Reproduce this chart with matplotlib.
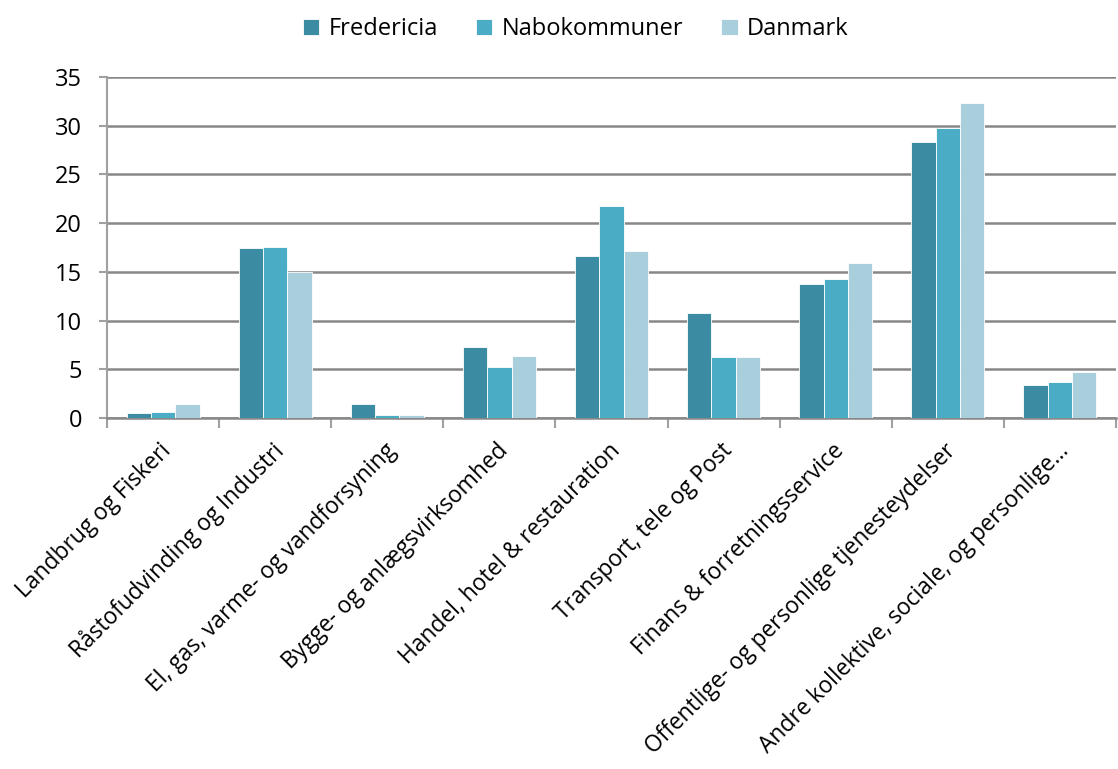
import matplotlib
matplotlib.use("Agg")
import matplotlib.pyplot as plt
import numpy as np

plt.rcParams["font.family"] = ["Open Sans", "DejaVu Sans"]

categories = [
    "Landbrug og Fiskeri",
    "Råstofudvinding og Industri",
    "El, gas, varme- og vandforsyning",
    "Bygge- og anlægsvirksomhed",
    "Handel, hotel & restauration",
    "Transport, tele og Post",
    "Finans & forretningsservice",
    "Offentlige- og personlige tjenesteydelser",
    "Andre kollektive, sociale, og personlige...",
]
fredericia = [0.55, 17.45, 1.47, 7.26, 16.65, 10.76, 13.77, 28.3, 3.39]
nabokommuner = [0.65, 17.57, 0.34, 5.24, 21.79, 6.27, 14.25, 29.77, 3.67]
danmark = [1.47, 14.97, 0.34, 6.37, 17.16, 6.27, 15.96, 32.3, 4.76]

series = [
    ("Fredericia", fredericia, "#3B8BA2"),
    ("Nabokommuner", nabokommuner, "#4BACC6"),
    ("Danmark", danmark, "#A9CFDD"),
]

fig = plt.figure(figsize=(11.18, 7.69), dpi=100)
ax = fig.add_axes([0.0957, 0.4564, 0.9025, 0.4435])

x = np.arange(len(categories))
width = 0.217
for i, (name, vals, color) in enumerate(series):
    ax.bar(x + (i - 1) * width, vals, width, color=color, label=name,
           edgecolor="white", linewidth=0.6, zorder=3)

ax.set_xlim(-0.5, len(categories) - 0.5)
ax.set_ylim(0, 35)
ax.set_yticks(range(0, 36, 5))
ax.yaxis.grid(True, color="#888888", linewidth=1.8, zorder=0)
ax.set_axisbelow(True)

for side in ["top", "right"]:
    ax.spines[side].set_visible(False)
ax.spines["left"].set_color("#A0A0A0")
ax.spines["left"].set_linewidth(1.5)
ax.spines["bottom"].set_color("#888888")
ax.spines["bottom"].set_linewidth(1.8)

ax.tick_params(axis="y", length=6, width=1.5, color="#A0A0A0", labelsize=17, pad=12)
ax.set_xticks(np.arange(-0.5, len(categories), 1.0))
ax.set_xticklabels([])
ax.tick_params(axis="x", length=7, width=1.5, color="#A0A0A0")
ax.set_xticks(x - 0.03, minor=True)
ax.set_xticklabels(categories, minor=True, rotation=45, ha="right",
                   rotation_mode="anchor", fontsize=16.4)
ax.tick_params(axis="x", which="minor", length=0, pad=15)

fig.legend(loc="upper center", bbox_to_anchor=(0.515, 1.005), ncol=3, frameon=False,
           fontsize=17, handlelength=0.7, handleheight=0.7, columnspacing=1.6,
           handletextpad=0.4)

fig.savefig("out.png", dpi=100)
